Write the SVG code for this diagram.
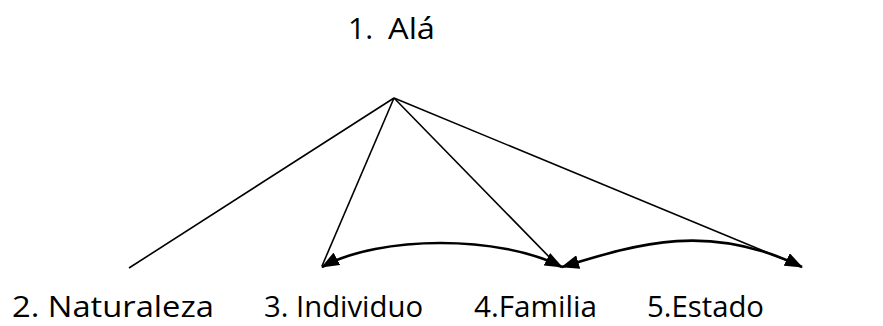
<svg xmlns="http://www.w3.org/2000/svg" width="883" height="326" viewBox="0 0 883 326">
  <style>
    .lbl { font-family: "Open Sans", "Noto Sans", "Liberation Sans", sans-serif; font-size: 30px; fill: #000; }
    .edge { fill: none; stroke: #000; stroke-width: 1.6; }
    .link { fill: none; stroke: #000; stroke-width: 2.6; }
  </style>
  <defs>
    <marker id="arrow" viewBox="0 0 18 14" refX="17" refY="7" markerWidth="18" markerHeight="14" markerUnits="userSpaceOnUse" orient="auto-start-reverse">
      <path d="M0,0 L18,7 L0,14 z" fill="#000"/>
    </marker>
  </defs>
  <rect width="883" height="326" fill="#fff"/>

  <g id="connectors">
    <!-- straight edges from the apex -->
    <line class="edge" x1="394" y1="98" x2="129" y2="268"/>
    <line class="edge" x1="394" y1="98" x2="322" y2="266"/>
    <line class="edge" x1="394" y1="98" x2="559" y2="267"/>
    <line class="edge" x1="394" y1="98" x2="800" y2="266"/>
    <!-- curved two-way links -->
    <path class="link" d="M322,267 C380,235 500,235 562,267" marker-start="url(#arrow)" marker-end="url(#arrow)"/>
    <path class="link" d="M562,267 C640,243 710,222 802,267" marker-start="url(#arrow)" marker-end="url(#arrow)"/>
  </g>

  <g id="node-1">
    <text class="lbl" y="39"><tspan x="348">1.</tspan> <tspan x="388" textLength="47" lengthAdjust="spacingAndGlyphs">Alá</tspan></text>
  </g>
  <g id="node-2">
    <text class="lbl" x="12" y="317" textLength="202" lengthAdjust="spacingAndGlyphs">2. Naturaleza</text>
  </g>
  <g id="node-3">
    <text class="lbl" x="264" y="317" textLength="159" lengthAdjust="spacingAndGlyphs">3. Individuo</text>
  </g>
  <g id="node-4">
    <text class="lbl" x="474" y="317" textLength="123" lengthAdjust="spacingAndGlyphs">4.Familia</text>
  </g>
  <g id="node-5">
    <text class="lbl" x="647" y="317" textLength="117" lengthAdjust="spacingAndGlyphs">5.Estado</text>
  </g>
</svg>
